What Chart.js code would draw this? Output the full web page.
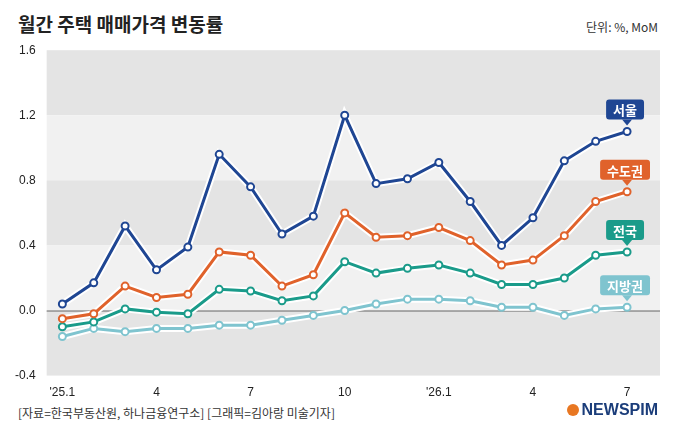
<!DOCTYPE html>
<html><head><meta charset="utf-8">
<script src="https://cdn.jsdelivr.net/npm/chart.js@4.4.1/dist/chart.umd.min.js"></script>
<style>
body{margin:0;background:#fff;font-family:"Noto Sans CJK KR","Noto Sans",sans-serif;}
#wrap{position:relative;width:680px;height:442px;}
#title{position:absolute;left:18px;top:10px;font-size:19px;font-weight:bold;color:#222;}
#unit{position:absolute;right:22px;top:18px;font-size:12px;color:#333;}
#foot{position:absolute;left:18px;top:404px;font-size:12px;color:#333;}
#logo{position:absolute;right:22px;top:401px;font-size:16px;font-weight:900;color:#1b3d7a;font-family:"Liberation Sans",sans-serif;}
#logo span{display:inline-block;width:12px;height:12px;border-radius:50%;background:#e87722;margin-right:3px;vertical-align:-1px;}
#c{position:absolute;left:0;top:40px;}
</style></head><body>
<div id="wrap">
<div id="title">월간 주택 매매가격 변동률</div>
<div id="unit">단위: %, MoM</div>
<canvas id="c" width="680" height="362"></canvas>
<div id="foot">[자료=한국부동산원, 하나금융연구소] [그래픽=김아랑 미술기자]</div>
<div id="logo"><span></span>NEWSPIM</div>
</div>
<script>
const months = ["'25.1","2","3","4","5","6","7","8","9","10","11","12","'26.1","2","3","4","5","6","7"];
const seoul = [0.04,0.17,0.52,0.25,0.39,0.96,0.76,0.47,0.58,1.2,0.78,0.81,0.91,0.67,0.40,0.57,0.92,1.04,1.10];
const metro = [-0.05,-0.02,0.15,0.08,0.10,0.36,0.34,0.15,0.22,0.60,0.45,0.46,0.51,0.43,0.28,0.31,0.46,0.67,0.73];
const nation = [-0.10,-0.07,0.01,-0.01,-0.02,0.13,0.12,0.06,0.09,0.30,0.23,0.26,0.28,0.23,0.16,0.16,0.20,0.34,0.36];
const region = [-0.16,-0.11,-0.13,-0.11,-0.11,-0.09,-0.09,-0.06,-0.03,0.0,0.04,0.07,0.07,0.06,0.02,0.02,-0.03,0.01,0.02];
const series = [
  {name:'서울', data:seoul, color:'#1f4693'},
  {name:'수도권', data:metro, color:'#e0622b'},
  {name:'전국', data:nation, color:'#1a9b8a'},
  {name:'지방권', data:region, color:'#7fc4cf'}
];
const pts = d => d.map((y,i)=>({x:i,y}));
const datasets = [];
series.forEach(s=>{
  datasets.push({data:pts(s.data),borderColor:'#fff',borderWidth:7,pointRadius:0,order:10,tension:0});
  datasets.push({data:pts(s.data),borderColor:s.color,borderWidth:3,pointRadius:3.5,pointBorderWidth:2,
    pointBackgroundColor:'#fff',pointBorderColor:s.color,order:1,tension:0});
});
const bands = {id:'bands',beforeDraw(ch){
  const {ctx,chartArea:a,scales:{y}}=ch;
  const cols=['#e4e4e4','#f1f1f1','#e4e4e4','#f1f1f1','#e4e4e4'];
  [[1.2,1.6],[0.8,1.2],[0.4,0.8],[0,0.4],[-0.4,0]].forEach((b,i)=>{
    ctx.fillStyle=cols[i];
    const t=y.getPixelForValue(b[1]),bt=y.getPixelForValue(b[0]);
    ctx.fillRect(a.left,t,a.right-a.left,bt-t);
  });
  ctx.strokeStyle='#666';ctx.lineWidth=1;
  ctx.beginPath();ctx.moveTo(a.left,y.getPixelForValue(0)+0.5);ctx.lineTo(a.right,y.getPixelForValue(0)+0.5);ctx.stroke();
}};
const tags = {id:'tags',afterDatasetsDraw(ch){
  const {ctx,scales:{x,y}}=ch;
  ctx.font='bold 13px "Noto Sans CJK KR"';ctx.textAlign='center';ctx.textBaseline='middle';
  series.forEach(s=>{
    const px=x.getPixelForValue(18),py=y.getPixelForValue(s.data[18]);
    const w=ctx.measureText(s.name).width+14,h=20,cx=px-2,top=py-32;
    ctx.fillStyle=s.color;
    ctx.beginPath();ctx.roundRect(cx-w/2,top,w,h,3);ctx.fill();
    ctx.beginPath();ctx.moveTo(px-5,top+h);ctx.lineTo(px+5,top+h);ctx.lineTo(px,top+h+6);ctx.fill();
    ctx.fillStyle='#fff';ctx.fillText(s.name,cx,top+h/2+1);
  });
}};
new Chart(document.getElementById('c'),{
  type:'line',data:{datasets},
  options:{responsive:false,animation:false,
    layout:{padding:{left:12,right:20,top:8,bottom:0}},
    plugins:{legend:{display:false},tooltip:{enabled:false}},
    scales:{
      x:{type:'linear',min:-0.5,max:19.05,grid:{display:false},border:{display:false},
        afterBuildTicks:ax=>{ax.ticks=[0,3,6,9,12,15,18].map(v=>({value:v}));},
        ticks:{callback:v=>months[v],color:'#222',font:{size:12},padding:2}},
      y:{min:-0.4,max:1.6,grid:{display:false},border:{display:false},
        ticks:{stepSize:0.4,callback:v=>v.toFixed(1),color:'#222',font:{size:12}}}
    }},
  plugins:[bands,tags]
});
</script>
</body></html>
